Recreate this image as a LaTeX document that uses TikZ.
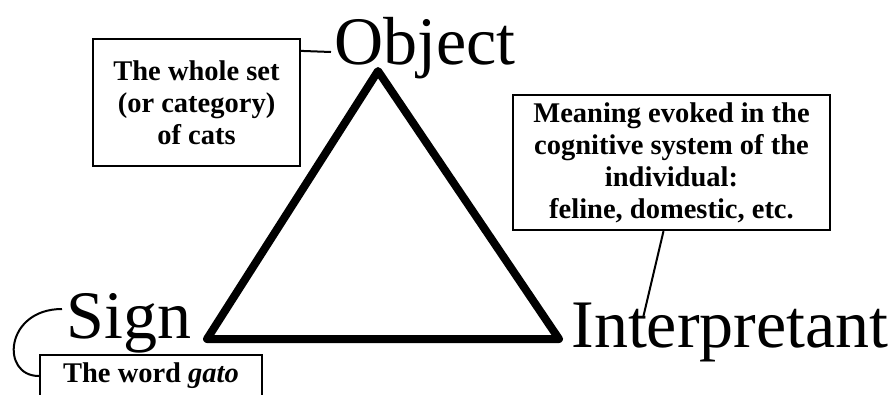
\documentclass[tikz,border=0pt]{standalone}
\usepackage{fontspec}
\setmainfont{Liberation Serif}
\begin{document}
\begin{tikzpicture}[x=1pt,y=-1pt,
  bigword/.style={inner sep=0pt,anchor=base,font=\fontsize{68}{80}\selectfont},
  notebox/.style={draw,line width=2.2pt,inner sep=0pt,align=center,
    font=\fontsize{28.5}{32}\selectfont\bfseries},
  thin/.style={line width=2pt},
  tri/.style={line width=8pt,line join=round}]
\useasboundingbox (0,0) rectangle (891,394);
\clip (0,0) rectangle (891,394);
% triangle
\coordinate (top) at (378,71);
\coordinate (bl) at (207,339);
\coordinate (br) at (559,339);
\draw[tri] (top) -- (bl) -- (br) -- cycle;
% labels
\node[bigword] (obj) at (425,64) {Object};
\node[bigword] (sign) at (129,338) {Sign};
\node[bigword] (interp) at (730,347) {Interpretant};
% boxes
\node[notebox,minimum width=207pt,minimum height=127pt] (obox) at (196.5,102.5)
  {The whole set\\(or category)\\of cats};
\node[notebox,minimum width=317pt,minimum height=135pt] (ibox) at (671.5,162.5)
  {Meaning evoked in the\\cognitive system of the\\individual:\\feline, domestic, etc.};
\node[notebox,minimum width=222pt,minimum height=42pt] (sbox) at (151,376)
  {\raisebox{-4pt}{The word \textit{gato}}};
% connectors
\coordinate (objc) at (331,52);
\coordinate (signc) at (62,309);
\coordinate (intc) at (643,318);
\draw[thin] ([yshift=-13pt]obox.north east) -- (objc);
\draw[thin] (signc) .. controls (5,309) and (0,376) .. (sbox.west);
\draw[thin] ([xshift=-8pt]ibox.south) -- (intc);
\end{tikzpicture}
\end{document}
